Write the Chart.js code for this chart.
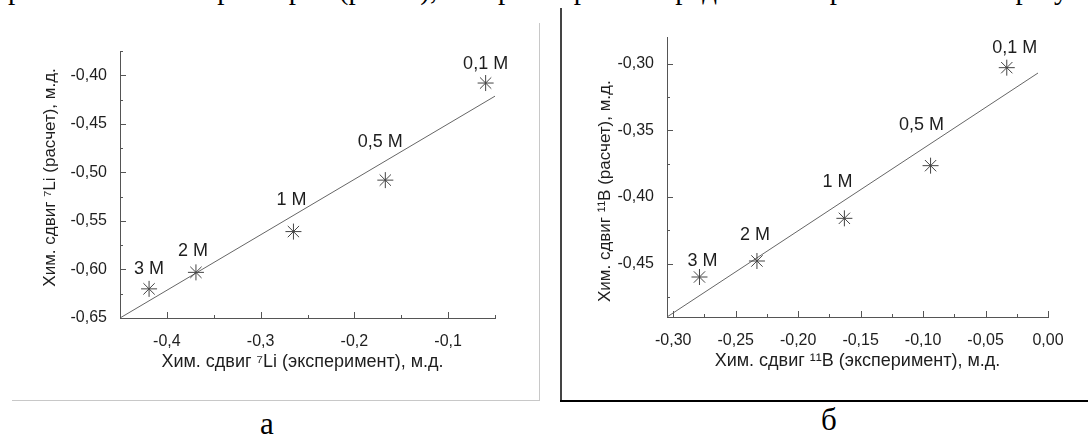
<!DOCTYPE html>
<html lang="ru">
<head>
<meta charset="utf-8">
<script src="https://cdn.jsdelivr.net/npm/chart.js@4.4.1/dist/chart.umd.min.js"></script>
<style>
  body { margin: 0; width: 1088px; height: 436px; background: #fff; overflow: hidden; position: relative; }
  .box { position: absolute; top: 0; width: 544px; height: 400px; }
  #boxLi { left: 0; }
  #boxB { left: 544px; }
  .line { position: absolute; }
  .serif { position: absolute; font-family: "Liberation Serif", "Times New Roman", serif; color: #000; white-space: nowrap; line-height: 32px; }
</style>
</head>
<body>
<div class="serif" style="left:8px; top:-27px; font-size:29px;">рассчитанных параметров (рис. 4), которая хорошо передает экспериментальные результаты при</div>

<div class="line" style="left:539px; top:23px; width:1px; height:377px; background:#c8c8c8;"></div>
<div class="line" style="left:12px; top:400px; width:528px; height:1px; background:#c8c8c8;"></div>
<div class="line" style="left:560px; top:8px; width:2px; height:394px; background:#444;"></div>
<div class="line" style="left:560px; top:400px; width:528px; height:2px; background:#000;"></div>

<div class="box" id="boxLi"><canvas id="chartLi" width="544" height="400"></canvas></div>
<div class="box" id="boxB"><canvas id="chartB" width="544" height="400"></canvas></div>

<div class="serif" style="left:260px; top:406px; font-size:31px; line-height:normal;">а</div>
<div class="serif" style="left:821px; top:402px; font-size:31px; line-height:normal;">б</div>

<script>
// подписи точек (концентрации)
const concLabels = ["0,1 M", "0,5 M", "1 M", "2 M", "3 M"];

// 7Li: эксперимент / расчет
const expLi = [-0.060, -0.167, -0.265, -0.369, -0.419];
const calcLi = [-0.408, -0.508, -0.561, -0.603, -0.620];
const fitLiX = [-0.45, -0.05];
const fitLiY = [-0.65, -0.4215];
const xTicksLi = [-0.4, -0.3, -0.2, -0.1];
const xTickLabelsLi = ["-0,4", "-0,3", "-0,2", "-0,1"];
const xMinorLi = [-0.45, -0.35, -0.25, -0.15, -0.05];
const yTicksLi = [-0.65, -0.60, -0.55, -0.50, -0.45, -0.40];
const yTickLabelsLi = ["-0,65", "-0,60", "-0,55", "-0,50", "-0,45", "-0,40"];
const yMinorLi = [-0.625, -0.575, -0.525, -0.475, -0.425, -0.375];

// 11B: эксперимент / расчет
const expB = [-0.033, -0.094, -0.163, -0.233, -0.279];
const calcB = [-0.303, -0.3765, -0.416, -0.448, -0.460];
const fitBX = [-0.305, -0.008];
const fitBY = [-0.49, -0.307];
const xTicksB = [-0.30, -0.25, -0.20, -0.15, -0.10, -0.05, 0.00];
const xTickLabelsB = ["-0,30", "-0,25", "-0,20", "-0,15", "-0,10", "-0,05", "0,00"];
const xMinorB = [-0.275, -0.225, -0.175, -0.125, -0.075, -0.025];
const yTicksB = [-0.45, -0.40, -0.35, -0.30];
const yTickLabelsB = ["-0,45", "-0,40", "-0,35", "-0,30"];
const yMinorB = [-0.475, -0.425, -0.375, -0.325];

// сдвиги подписей относительно точек
const labelShiftLi = [[0, -19], [-5, -38], [-2, -32], [-3, -21], [0, -20]];
const labelShiftB = [[8, -20], [-9, -41], [-7, -36], [-2, -26], [3, -16]];

Chart.defaults.font.family = "'Liberation Sans', Arial, sans-serif";
Chart.defaults.color = "#1e1e1e";

const axisColor = "#555";

// тики внутрь графика
const insideTicks = (xMaj, xMin, yMaj, yMin) => ({
    id: "insideTicks",
    afterDraw(chart) {
        const ctx = chart.ctx;
        const area = chart.chartArea;
        const x = chart.scales.x;
        const y = chart.scales.y;
        ctx.save();
        ctx.strokeStyle = axisColor;
        ctx.lineWidth = 1;
        ctx.beginPath();
        xMaj.forEach((v) => {
            const px = Math.round(x.getPixelForValue(v)) + 0.5;
            ctx.moveTo(px, area.bottom);
            ctx.lineTo(px, area.bottom - 6);
        });
        xMin.forEach((v) => {
            const px = Math.round(x.getPixelForValue(v)) + 0.5;
            ctx.moveTo(px, area.bottom);
            ctx.lineTo(px, area.bottom - 3);
        });
        yMaj.forEach((v) => {
            const py = Math.round(y.getPixelForValue(v)) + 0.5;
            ctx.moveTo(area.left, py);
            ctx.lineTo(area.left + 6, py);
        });
        yMin.forEach((v) => {
            const py = Math.round(y.getPixelForValue(v)) + 0.5;
            ctx.moveTo(area.left, py);
            ctx.lineTo(area.left + 3, py);
        });
        ctx.stroke();
        ctx.restore();
    }
});

// подписи концентраций над точками
const pointLabels = (texts, shifts) => ({
    id: "pointLabels",
    afterDatasetsDraw(chart) {
        const ctx = chart.ctx;
        const meta = chart.getDatasetMeta(0);
        ctx.save();
        ctx.font = "18px 'Liberation Sans', Arial, sans-serif";
        ctx.fillStyle = "#1e1e1e";
        ctx.textAlign = "center";
        ctx.textBaseline = "middle";
        meta.data.forEach((el, i) => {
            ctx.fillText(texts[i], el.x + shifts[i][0], el.y + shifts[i][1]);
        });
        ctx.restore();
    }
});

const makeChart = (id, o) => {
    const points = o.exp.map((v, i) => ({ x: v, y: o.calc[i] }));
    const fit = o.fitX.map((v, i) => ({ x: v, y: o.fitY[i] }));
    return new Chart(document.getElementById(id).getContext("2d"), {
        type: "scatter",
        data: {
            datasets: [{
                data: points,
                pointStyle: "star",
                pointRadius: 8,
                borderColor: "#444",
                backgroundColor: "#444",
                borderWidth: 1
            }, {
                data: fit,
                showLine: true,
                pointRadius: 0,
                borderColor: "#666",
                borderWidth: 1
            }]
        },
        options: {
            responsive: false,
            animation: false,
            devicePixelRatio: 1,
            layout: { padding: o.padding },
            plugins: { legend: { display: false }, tooltip: { enabled: false } },
            scales: {
                x: {
                    type: "linear",
                    min: o.xMin, max: o.xMax,
                    grid: { display: false },
                    border: { display: true, color: axisColor, width: 1 },
                    afterBuildTicks: (s) => { s.ticks = o.xTicks.map((v) => ({ value: v })); },
                    afterFit: (s) => { s.height = o.xHeight; },
                    ticks: {
                        padding: 6,
                        font: { size: 16 },
                        callback: (v, i) => o.xTickLabels[i]
                    },
                    title: {
                        display: true,
                        text: o.xTitle,
                        font: { size: 18 },
                        padding: { top: 0, bottom: o.xTitlePad }
                    }
                },
                y: {
                    type: "linear",
                    min: o.yMin, max: o.yMax,
                    grid: { display: false },
                    border: { display: true, color: axisColor, width: 1 },
                    afterBuildTicks: (s) => { s.ticks = o.yTicks.map((v) => ({ value: v })); },
                    afterFit: (s) => { s.width = o.yWidth; },
                    ticks: {
                        padding: 5,
                        font: { size: 16 },
                        callback: (v, i) => o.yTickLabels[i]
                    },
                    title: {
                        display: true,
                        text: o.yTitle,
                        font: { size: 17 },
                        padding: { top: o.yTitlePad, bottom: 0 }
                    }
                }
            }
        },
        plugins: [insideTicks(o.xMaj, o.xMinor, o.yMaj, o.yMinor), pointLabels(concLabels, o.shifts)]
    });
};

makeChart("chartLi", {
    exp: expLi, calc: calcLi, fitX: fitLiX, fitY: fitLiY,
    xMin: -0.45, xMax: -0.05, yMin: -0.65, yMax: -0.375,
    xTicks: xTicksLi, xTickLabels: xTickLabelsLi, yTicks: yTicksLi, yTickLabels: yTickLabelsLi,
    xMaj: xTicksLi, xMinor: xMinorLi, yMaj: yTicksLi, yMinor: yMinorLi,
    padding: { top: 51, right: 49, left: 0, bottom: 0 },
    xHeight: 82, yWidth: 120, xTitlePad: 27, yTitlePad: 40,
    xTitle: "Хим. сдвиг \u2077Li (эксперимент), м.д.  ",
    yTitle: "   Хим. сдвиг \u2077Li (расчет), м.д.",
    shifts: labelShiftLi
});

makeChart("chartB", {
    exp: expB, calc: calcB, fitX: fitBX, fitY: fitBY,
    xMin: -0.305, xMax: 0, yMin: -0.49, yMax: -0.28,
    xTicks: xTicksB, xTickLabels: xTickLabelsB, yTicks: yTicksB, yTickLabels: yTickLabelsB,
    xMaj: xTicksB, xMinor: xMinorB, yMaj: yTicksB, yMinor: yMinorB,
    padding: { top: 37, right: 40, left: 0, bottom: 0 },
    xHeight: 83, yWidth: 123, xTitlePad: 28, yTitlePad: 51,
    xTitle: "Хим. сдвиг \u00b9\u00b9B (эксперимент), м.д.",
    yTitle: "Хим. сдвиг \u00b9\u00b9B (расчет), м.д.      ",
    shifts: labelShiftB
});
</script>
</body>
</html>
